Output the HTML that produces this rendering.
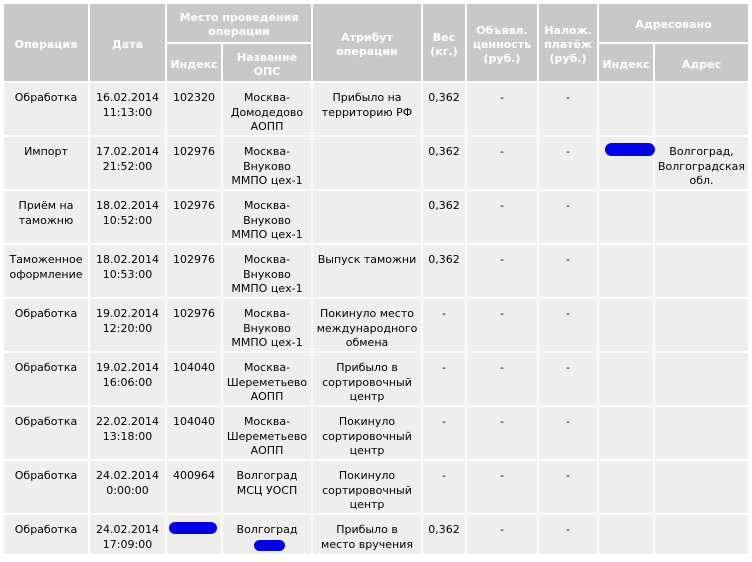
<!DOCTYPE html>
<html><head><meta charset="utf-8"><style>
html,body{margin:0;padding:0;background:#fff;width:752px;height:562px;overflow:hidden}
body{position:relative;font-family:"DejaVu Sans","Liberation Sans",sans-serif;font-size:11px;color:#000}
.h{position:absolute;background:#c8c8c8;color:#fff;font-weight:bold;display:flex;align-items:center;justify-content:center;text-align:center;line-height:14px;white-space:nowrap;box-sizing:border-box;padding-top:4px}
.r{position:absolute;left:0;width:752px;height:52px}
.r>div{position:absolute;top:0;height:100%;background:#eee;text-align:center;box-sizing:border-box;padding-top:8px;line-height:14.5px;white-space:nowrap}
.c1{left:4px;width:84px}.c2{left:90px;width:75px}.c3{left:167px;width:54px}.c4{left:223px;width:88px}.c5{left:313px;width:108px}
.c6{left:423px;width:42px}.c7{left:467px;width:70px}.c8{left:539px;width:58px}.c9{left:599px;width:54px}.c10{left:655px;width:93px}
.b{position:absolute;background:#0000e6;border-radius:7px}
</style></head><body>
<div class="h" style="left:4px;top:4px;width:84px;height:77px">Операция</div>
<div class="h" style="left:90px;top:4px;width:75px;height:77px">Дата</div>
<div class="h" style="left:167px;top:4px;width:144px;height:38px">Место проведения<br>операции</div>
<div class="h" style="left:167px;top:44px;width:54px;height:37px">Индекс</div>
<div class="h" style="left:223px;top:44px;width:88px;height:37px">Название<br>ОПС</div>
<div class="h" style="left:313px;top:4px;width:108px;height:77px">Атрибут<br>операции</div>
<div class="h" style="left:423px;top:4px;width:42px;height:77px">Вес<br>(кг.)</div>
<div class="h" style="left:467px;top:4px;width:70px;height:77px">Объявл.<br>ценность<br>(руб.)</div>
<div class="h" style="left:539px;top:4px;width:58px;height:77px">Налож.<br>платёж<br>(руб.)</div>
<div class="h" style="left:599px;top:4px;width:149px;height:38px">Адресовано</div>
<div class="h" style="left:599px;top:44px;width:54px;height:37px">Индекс</div>
<div class="h" style="left:655px;top:44px;width:93px;height:37px">Адрес</div>

<div class="r" style="top:83px"><div class="c1">Обработка</div><div class="c2">16.02.2014<br>11:13:00</div><div class="c3">102320</div><div class="c4">Москва-<br>Домодедово<br>АОПП</div><div class="c5">Прибыло на<br>территорию РФ</div><div class="c6">0,362</div><div class="c7">-</div><div class="c8">-</div><div class="c9"></div><div class="c10"></div></div>

<div class="r" style="top:137px"><div class="c1">Импорт</div><div class="c2">17.02.2014<br>21:52:00</div><div class="c3">102976</div><div class="c4">Москва-<br>Внуково<br>ММПО цех-1</div><div class="c5"></div><div class="c6">0,362</div><div class="c7">-</div><div class="c8">-</div><div class="c9"></div><div class="c10">Волгоград,<br>Волгоградская<br>обл.</div></div>

<div class="r" style="top:191px"><div class="c1">Приём на<br>таможню</div><div class="c2">18.02.2014<br>10:52:00</div><div class="c3">102976</div><div class="c4">Москва-<br>Внуково<br>ММПО цех-1</div><div class="c5"></div><div class="c6">0,362</div><div class="c7">-</div><div class="c8">-</div><div class="c9"></div><div class="c10"></div></div>

<div class="r" style="top:245px"><div class="c1">Таможенное<br>оформление</div><div class="c2">18.02.2014<br>10:53:00</div><div class="c3">102976</div><div class="c4">Москва-<br>Внуково<br>ММПО цех-1</div><div class="c5">Выпуск таможни</div><div class="c6">0,362</div><div class="c7">-</div><div class="c8">-</div><div class="c9"></div><div class="c10"></div></div>

<div class="r" style="top:299px"><div class="c1">Обработка</div><div class="c2">19.02.2014<br>12:20:00</div><div class="c3">102976</div><div class="c4">Москва-<br>Внуково<br>ММПО цех-1</div><div class="c5">Покинуло место<br>международного<br>обмена</div><div class="c6">-</div><div class="c7">-</div><div class="c8">-</div><div class="c9"></div><div class="c10"></div></div>

<div class="r" style="top:353px"><div class="c1">Обработка</div><div class="c2">19.02.2014<br>16:06:00</div><div class="c3">104040</div><div class="c4">Москва-<br>Шереметьево<br>АОПП</div><div class="c5">Прибыло в<br>сортировочный<br>центр</div><div class="c6">-</div><div class="c7">-</div><div class="c8">-</div><div class="c9"></div><div class="c10"></div></div>

<div class="r" style="top:407px"><div class="c1">Обработка</div><div class="c2">22.02.2014<br>13:18:00</div><div class="c3">104040</div><div class="c4">Москва-<br>Шереметьево<br>АОПП</div><div class="c5">Покинуло<br>сортировочный<br>центр</div><div class="c6">-</div><div class="c7">-</div><div class="c8">-</div><div class="c9"></div><div class="c10"></div></div>

<div class="r" style="top:461px"><div class="c1">Обработка</div><div class="c2">24.02.2014<br>0:00:00</div><div class="c3">400964</div><div class="c4">Волгоград<br>МСЦ УОСП</div><div class="c5">Покинуло<br>сортировочный<br>центр</div><div class="c6">-</div><div class="c7">-</div><div class="c8">-</div><div class="c9"></div><div class="c10"></div></div>

<div class="r" style="top:515px;height:39px"><div class="c1">Обработка</div><div class="c2">24.02.2014<br>17:09:00</div><div class="c3"></div><div class="c4">Волгоград</div><div class="c5">Прибыло в<br>место вручения</div><div class="c6">0,362</div><div class="c7">-</div><div class="c8">-</div><div class="c9"></div><div class="c10"></div></div>

<div class="b" style="left:605px;top:143px;width:50px;height:13px"></div>
<div class="b" style="left:169px;top:522px;width:48px;height:12px"></div>
<div class="b" style="left:254px;top:540px;width:31px;height:11px"></div>
</body></html>
